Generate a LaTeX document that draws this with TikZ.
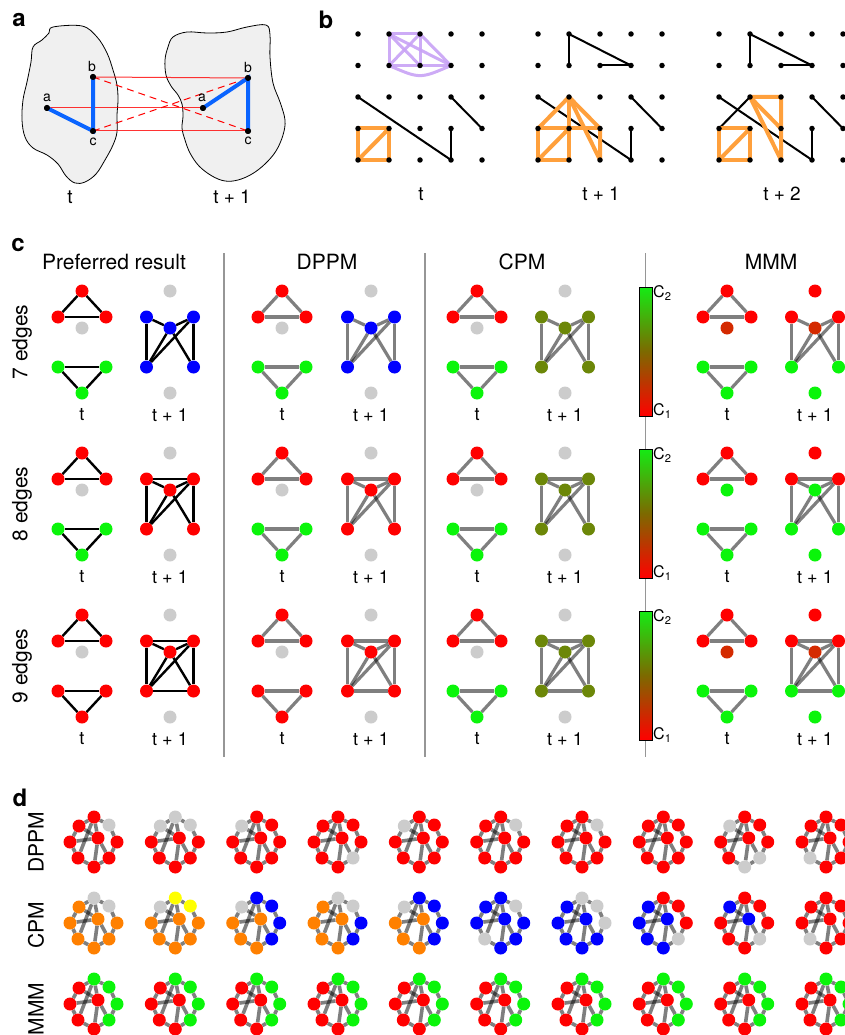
\documentclass[tikz,border=0pt]{standalone}
\usepackage{fontspec}
\setmainfont{TeX Gyre Heros}
\pgfdeclarelayer{bg}
\pgfsetlayers{bg,main}
\definecolor{cr}{RGB}{255,0,0}
\definecolor{cg}{RGB}{10,245,10}
\definecolor{cb}{RGB}{0,0,255}
\definecolor{cgr}{RGB}{204,204,204}
\definecolor{col}{RGB}{108,135,8}
\definecolor{cdk}{RGB}{212,42,0}
\definecolor{cor}{RGB}{255,128,0}
\definecolor{cye}{RGB}{255,255,0}
\definecolor{cpu}{RGB}{200,162,245}
\definecolor{cob}{RGB}{255,160,60}
\definecolor{cba}{RGB}{10,100,255}
\definecolor{blobfill}{RGB}{240,240,240}
\definecolor{sepgray}{RGB}{150,150,150}
\definecolor{cbarmid}{RGB}{125,105,0}
\definecolor{cbartop}{RGB}{20,235,20}
\newcommand\myfs[1]{\fontsize{#1}{#1}\selectfont}
\tikzset{
  cn/.style={circle,inner sep=0pt,minimum size=13pt},
  dn/.style={circle,inner sep=0pt,minimum size=13pt},
  pe/.style={line width=2.4pt,black},
  ge/.style={line width=3.2pt,black,opacity=0.5},
  de/.style={line width=3.6pt,black,opacity=0.5},
  adot/.style={circle,fill=black,inner sep=0pt,minimum size=6pt},
  bdot/.style={circle,fill=black,inner sep=0pt,minimum size=5.5pt},
  plab/.style={font=\myfs{24}\bfseries},
  tlab/.style={font=\myfs{18}},
  blab/.style={font=\myfs{19}},
  ttl/.style={font=\myfs{21}},
  nlab/.style={font=\myfs{14}},
  sep/.style={draw=sepgray,line width=1.4pt},
  bk/.style={line width=2pt,black},
  or/.style={line width=4pt,cob,line join=round},
  pu/.style={line width=3pt,cpu,opacity=0.9},
  bl/.style={line width=4pt,cba},
  rl/.style={line width=1pt,cr,opacity=0.8},
  rd/.style={line width=1pt,cr,dash pattern=on 7pt off 5pt}
}
% panel c: graph at time t
\newcommand\cgT[7]{%
  \begin{scope}[shift={(#2,#3)}]
    \node[cn,fill=#5] (#1T) at (0,0) {};
    \node[cn,fill=#5] (#1L) at (-24,26) {};
    \node[cn,fill=#5] (#1R) at (24,26) {};
    \node[cn,fill=#6] (#1M) at (0,37) {};
    \node[cn,fill=#7] (#1BL) at (-24,76) {};
    \node[cn,fill=#7] (#1BR) at (24,76) {};
    \node[cn,fill=#7] (#1B) at (0,102) {};
  \end{scope}
  \begin{pgfonlayer}{bg}
    \foreach \a/\b in {T/L,T/R,L/R,BL/BR,BL/B,BR/B}
      \draw[#4] (#1\a)--(#1\b);
  \end{pgfonlayer}}
% panel c: graph at time t+1
\newcommand\cgTT[9]{%
  \begin{scope}[shift={(#2)}]
    \node[cn,fill=#5] (#1T) at (0,0) {};
    \node[cn,fill=#6] (#1TL) at (-23.5,26) {};
    \node[cn,fill=#6] (#1TR) at (23.5,26) {};
    \node[cn,fill=#7] (#1C) at (0,37) {};
    \node[cn,fill=#8] (#1BL) at (-23.5,76) {};
    \node[cn,fill=#8] (#1BR) at (23.5,76) {};
    \node[cn,fill=#9] (#1B) at (0,102) {};
  \end{scope}
  \begin{pgfonlayer}{bg}
    \foreach \a/\b in {TL/BL,TL/C,C/TR,TR/BR,BL/C,BL/TR,C/BR}
      \draw[#3] (#1\a)--(#1\b);
    \ifnum#4>7 \draw[#3] (#1TL)--(#1TR);\fi
    \ifnum#4>8 \draw[#3] (#1BL)--(#1BR);\fi
  \end{pgfonlayer}}
% panel d graph
\newcommand\dg[3]{\def\dgp{#1}\def\dgx{#2}\def\dgy{#3}\dgc}
\newcommand\dgc[9]{%
  \begin{scope}[shift={(\dgx,\dgy)}]
    \node[dn,fill=#1] (\dgp T) at (0,-25) {};
    \node[dn,fill=#2] (\dgp UR) at (15,-17) {};
    \node[dn,fill=#3] (\dgp R) at (23,0) {};
    \node[dn,fill=#4] (\dgp LR) at (15,16) {};
    \node[dn,fill=#5] (\dgp B) at (0,25) {};
    \node[dn,fill=#6] (\dgp LL) at (-16,16) {};
    \node[dn,fill=#7] (\dgp L) at (-24,0) {};
    \node[dn,fill=#8] (\dgp UL) at (-15,-16) {};
    \node[dn,fill=#9] (\dgp C) at (4,-4) {};
  \end{scope}
  \begin{pgfonlayer}{bg}
    \foreach \a/\b in {T/UR,UR/R,R/LR,LR/B,B/LL,LL/L,L/UL,UL/T,L/C,C/B,C/LR,T/LL,T/C,UL/C}
      \draw[de] (\dgp\a)--(\dgp\b);
  \end{pgfonlayer}}
\begin{document}
\begin{tikzpicture}[x=1pt,y=-1pt]
\useasboundingbox (0,0) rectangle (845,1035);

% ---------------- panel a ----------------
\node[plab] (labA) at (19,20) {a};
\draw[fill=blobfill,line width=0.8pt] plot[smooth cycle,tension=0.6] coordinates {
 (53,27) (82,26) (97,37) (107,53) (113,70) (117,85) (118,100) (117,115) (117,132)
 (113,145) (105,160) (96,174) (85,182) (75,183) (66,176) (58,164) (47,155) (33,148)
 (25,137) (22,120) (23,100) (27,82) (31,62) (33,47) (42,40) (49,33)};
\draw[fill=blobfill,line width=0.8pt] plot[smooth cycle,tension=0.6] coordinates {
 (173,37) (187,32) (207,33) (227,32) (247,27) (266,25) (270,35) (270,57) (273,83)
 (280,102) (285,120) (283,135) (276,151) (265,164) (252,174) (238,180) (225,181)
 (212,176) (199,166) (190,153) (185,140) (182,128) (183,116) (182,104) (178,95)
 (171,86) (166,75) (165,60) (168,47)};
\node[adot] (aa) at (47,108) {};
\node[adot] (ab) at (93,77) {};
\node[adot] (ac) at (93,131) {};
\node[adot] (ba) at (203,108) {};
\node[adot] (bb) at (248,78) {};
\node[adot] (bc) at (248,131) {};
\draw[rl] (ab.center)--(bb.center);
\draw[rl] (aa.center)--(ba.center);
\draw[rl] (ac.center)--(bc.center);
\draw[rd] (ab.center)--(bc.center);
\draw[rd] (ac.center)--(bb.center);
\draw[bl] (aa.center)--(ac.center)--(ab.center);
\draw[bl] (ba.center)--(bb.center)--(bc.center);
\node[adot] at (aa) {};\node[adot] at (ab) {};\node[adot] at (ac) {};
\node[adot] at (ba) {};\node[adot] at (bb) {};\node[adot] at (bc) {};
\node[nlab] (laa) at (47,98) {a};
\node[nlab] (lab) at (92,67) {b};
\node[nlab] (lac) at (93,142) {c};
\node[nlab] (lba) at (202,98) {a};
\node[nlab] (lbb) at (248,68) {b};
\node[nlab] (lbc) at (248,141) {c};
\node[blab] (ta1) at (70,197) {t};
\node[blab] (ta2) at (232,197) {t + 1};

% ---------------- panel b ----------------
\node[plab] (labB) at (326,20) {b};
\foreach \g/\x in {1/358,2/538,3/719}
  \foreach \i in {0,...,4}
    \foreach \j in {0,...,4}
      \node[bdot] (b\g-\i-\j) at (\x+31*\i,34+31.5*\j) {};
\begin{pgfonlayer}{bg}
 % grid 1
 \draw[pu] (b1-1-0.center)--(b1-2-0.center);
 \draw[pu] (b1-1-0.center)--(b1-1-1.center);
 \draw[pu] (b1-2-0.center)--(b1-2-1.center);
 \draw[pu] (b1-1-1.center)--(b1-2-1.center);
 \draw[pu] (b1-1-0.center)--(b1-2-1.center);
 \draw[pu] (b1-2-0.center)--(b1-1-1.center);
 \draw[pu] (b1-2-0.center)--(b1-3-1.center);
 \draw[pu] (b1-2-1.center)--(b1-3-1.center);
 \draw[pu] (b1-1-0.center)--(b1-3-1.center);
 \draw[pu] (b1-1-1.center) .. controls (420,79) .. (b1-3-1.center);
 \draw[bk] (b1-0-2.center)--(b1-3-4.center);
 \draw[bk] (b1-3-3.center)--(b1-3-4.center);
 \draw[bk] (b1-3-2.center)--(b1-4-3.center);
 \draw[or] (b1-0-3.center)--(b1-1-3.center)--(b1-1-4.center)--(b1-0-4.center)--cycle;
 \draw[or] (b1-0-4.center)--(b1-1-3.center);
 % grid 2
 \draw[bk] (b2-1-0.center)--(b2-1-1.center);
 \draw[bk] (b2-1-0.center)--(b2-3-1.center);
 \draw[bk] (b2-2-1.center)--(b2-3-1.center);
 \draw[bk] (b2-0-2.center)--(b2-3-4.center);
 \draw[bk] (b2-3-3.center)--(b2-3-4.center);
 \draw[bk] (b2-3-2.center)--(b2-4-3.center);
 \draw[or] (b2-0-3.center)--(b2-1-3.center)--(b2-1-4.center)--(b2-0-4.center)--cycle;
 \draw[or] (b2-0-4.center)--(b2-1-3.center);
 \draw[or] (b2-1-3.center)--(b2-2-3.center);
 \draw[or] (b2-0-3.center)--(b2-1-2.center)--(b2-2-3.center);
 \draw[or] (b2-1-2.center)--(b2-1-3.center);
 \draw[or] (b2-1-2.center)--(b2-2-4.center)--(b2-2-3.center);
 % grid 3
 \draw[bk] (b3-1-0.center)--(b3-1-1.center);
 \draw[bk] (b3-1-0.center)--(b3-3-1.center);
 \draw[bk] (b3-2-1.center)--(b3-3-1.center);
 \draw[bk] (b3-0-2.center)--(b3-3-4.center);
 \draw[bk] (b3-3-3.center)--(b3-3-4.center);
 \draw[bk] (b3-3-2.center)--(b3-4-3.center);
 \draw[bk] (b3-0-3.center)--(b3-1-2.center);
 \draw[or] (b3-0-3.center)--(b3-1-3.center)--(b3-1-4.center)--(b3-0-4.center)--cycle;
 \draw[or] (b3-0-4.center)--(b3-1-3.center);
 \draw[or] (b3-1-2.center)--(b3-2-2.center)--(b3-2-4.center)--cycle;
 \draw[or] (b3-1-2.center)--(b3-2-3.center);
\end{pgfonlayer}
\node[blab] (tb1) at (421,194) {t};
\node[blab] (tb2) at (601,194) {t + 1};
\node[blab] (tb3) at (782,194) {t + 2};

% ---------------- panel c ----------------
\node[plab] (labC) at (18,245) {c};
\node[ttl] (h1) at (114,262) {Preferred result};
\node[ttl] (h2) at (327,262) {DPPM};
\node[ttl] (h3) at (522,262) {CPM};
\node[ttl] (h4) at (771,262) {MMM};
\draw[sep] (224,253)--(224,757);
\draw[sep] (425,253)--(425,757);
\draw[sep,line width=1pt] (645,253)--(645,757);
\node[ttl,rotate=90] (r1) at (22,342) {7 edges};
\node[ttl,rotate=90] (r2) at (22,504) {8 edges};
\node[ttl,rotate=90] (r3) at (22,666) {9 edges};
\foreach \r/\yy in {1/287,2/449,3/611}{
  \shade[top color=cbartop,bottom color=cr,middle color=cbarmid] (639,\yy) rectangle (652,\yy+129);
  \draw[line width=0.7pt] (639,\yy) rectangle (652,\yy+129);
  \node[font=\myfs{16},anchor=west,inner sep=1pt] (ctop\r) at (652,\yy+6) {C\textsubscript{2}};
  \node[font=\myfs{16},anchor=west,inner sep=1pt] (cbot\r) at (652,\yy+124) {C\textsubscript{1}};
}
% row 1
\cgT{pA}{82}{291}{pe}{cr}{cgr}{cg}
\cgTT{pB}{170,291}{pe}{7}{cgr}{cb}{cb}{cb}{cgr}
\cgT{dA}{282}{291}{ge}{cr}{cgr}{cg}
\cgTT{dB}{371,291}{ge}{7}{cgr}{cb}{cb}{cb}{cgr}
\cgT{cA}{477}{291}{ge}{cr}{cgr}{cg}
\cgTT{cB}{565,291}{ge}{7}{cgr}{col}{col}{col}{cgr}
\cgT{mA}{727}{291}{ge}{cr}{cdk}{cg}
\cgTT{mB}{815,291}{ge}{7}{cr}{cr}{cdk}{cg}{cg}
% row 2
\cgT{pC}{82}{453}{pe}{cr}{cgr}{cg}
\cgTT{pD}{170,453}{pe}{8}{cgr}{cr}{cr}{cr}{cgr}
\cgT{dC}{282}{453}{ge}{cr}{cgr}{cg}
\cgTT{dD}{371,453}{ge}{8}{cgr}{cr}{cr}{cr}{cgr}
\cgT{cC}{477}{453}{ge}{cr}{cgr}{cg}
\cgTT{cD}{565,453}{ge}{8}{cgr}{col}{col}{col}{cgr}
\cgT{mC}{727}{453}{ge}{cr}{cg}{cg}
\cgTT{mD}{815,453}{ge}{8}{cr}{cr}{cg}{cg}{cg}
% row 3
\cgT{pE}{82}{615}{pe}{cr}{cgr}{cr}
\cgTT{pF}{170,615}{pe}{9}{cgr}{cr}{cr}{cr}{cgr}
\cgT{dE}{282}{615}{ge}{cr}{cgr}{cr}
\cgTT{dF}{371,615}{ge}{9}{cgr}{cr}{cr}{cr}{cgr}
\cgT{cE}{477}{615}{ge}{cr}{cgr}{cg}
\cgTT{cF}{565,615}{ge}{9}{cgr}{col}{col}{col}{cgr}
\cgT{mE}{727}{615}{ge}{cr}{cdk}{cg}
\cgTT{mF}{815,615}{ge}{9}{cr}{cr}{cdk}{cg}{cg}
% time labels
\foreach \r/\yy in {1/415,2/577,3/739}
  \foreach \k/\xa/\xb in {1/82/170,2/282/371,3/477/565,4/727/815}{
    \node[tlab] (tl\r\k) at (\xa,\yy) {t};
    \node[tlab] (tr\r\k) at (\xb,\yy) {t + 1};
  }

% ---------------- panel d ----------------
\node[plab] (labD) at (20,798) {d};
\node[ttl,rotate=90] (dr1) at (36,842) {DPPM};
\node[ttl,rotate=90] (dr2) at (36,925) {CPM};
\node[ttl,rotate=90] (dr3) at (36,1009) {MMM};
% order: T UR R LR B LL L UL C
% DPPM
\dg{x1}{94}{842}{cr}{cgr}{cr}{cr}{cr}{cr}{cr}{cr}{cr}
\dg{x2}{175.3}{842}{cgr}{cgr}{cr}{cr}{cr}{cr}{cr}{cgr}{cr}
\dg{x3}{256.7}{842}{cr}{cr}{cr}{cr}{cr}{cr}{cr}{cgr}{cr}
\dg{x4}{338}{842}{cr}{cr}{cr}{cgr}{cr}{cr}{cr}{cr}{cr}
\dg{x5}{419.3}{842}{cr}{cr}{cr}{cr}{cr}{cr}{cr}{cgr}{cr}
\dg{x6}{500.7}{842}{cr}{cgr}{cr}{cr}{cr}{cr}{cr}{cr}{cr}
\dg{x7}{582}{842}{cr}{cgr}{cr}{cr}{cr}{cr}{cr}{cr}{cr}
\dg{x8}{663.3}{842}{cr}{cr}{cr}{cr}{cr}{cr}{cr}{cr}{cr}
\dg{x9}{744.7}{842}{cr}{cr}{cr}{cgr}{cgr}{cr}{cr}{cgr}{cr}
\dg{x10}{826}{842}{cr}{cr}{cr}{cr}{cr}{cgr}{cr}{cr}{cr}
% CPM
\dg{y1}{94}{923}{cgr}{cgr}{cor}{cor}{cor}{cor}{cor}{cor}{cor}
\dg{y2}{175.3}{923}{cye}{cye}{cor}{cor}{cor}{cor}{cor}{cgr}{cor}
\dg{y3}{256.7}{923}{cb}{cb}{cb}{cb}{cor}{cor}{cor}{cgr}{cor}
\dg{y4}{338}{923}{cgr}{cgr}{cb}{cb}{cor}{cor}{cor}{cor}{cor}
\dg{y5}{419.3}{923}{cb}{cb}{cb}{cb}{cor}{cor}{cor}{cgr}{cor}
\dg{y6}{500.7}{923}{cb}{cgr}{cb}{cb}{cb}{cgr}{cb}{cb}{cb}
\dg{y7}{582}{923}{cgr}{cgr}{cgr}{cb}{cb}{cb}{cb}{cb}{cb}
\dg{y8}{663.3}{923}{cr}{cr}{cr}{cgr}{cb}{cb}{cb}{cb}{cb}
\dg{y9}{744.7}{923}{cr}{cr}{cr}{cgr}{cr}{cr}{cr}{cb}{cb}
\dg{y10}{826}{923}{cr}{cr}{cr}{cr}{cr}{cgr}{cr}{cr}{cr}
% MMM
\foreach \k/\xx in {1/94,2/175.3,3/256.7,4/338,5/419.3,6/500.7,7/582,8/663.3,9/744.7,10/826}{
  \dg{z\k}{\xx}{1004}{cg}{cg}{cg}{cg}{cr}{cr}{cr}{cr}{cr}
}
\end{tikzpicture}
\end{document}
